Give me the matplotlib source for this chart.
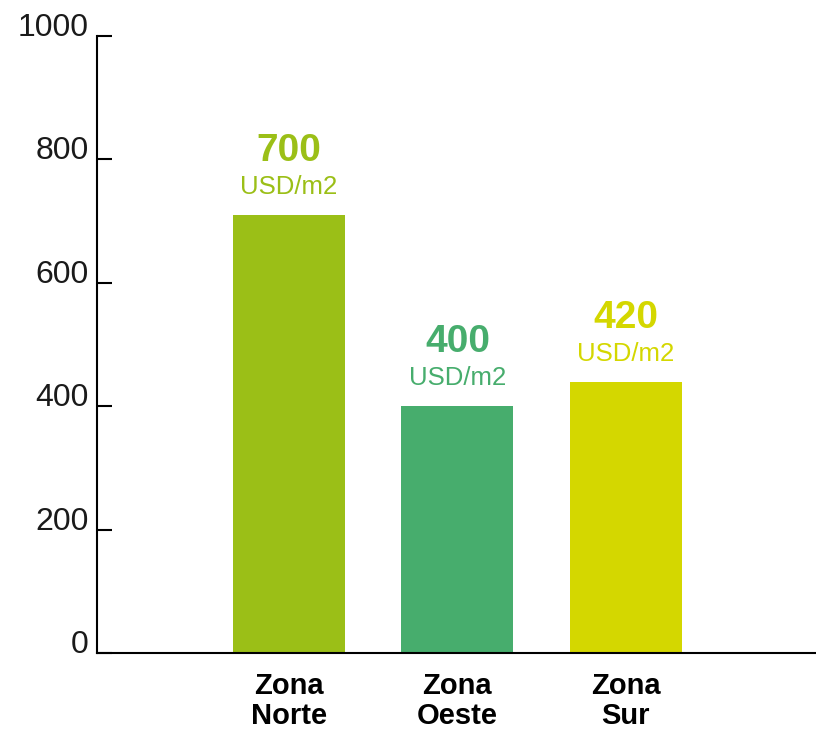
import matplotlib.pyplot as plt

# data
zonas = ["Zona\nNorte", "Zona\nOeste", "Zona\nSur"]
alturas = [710, 400, 440]
etiquetas = ["700", "400", "420"]
colores = ["#9BBF17", "#47AD6D", "#D4D700"]
yticks = [0, 200, 400, 600, 800, 1000]

plt.rcParams['font.family'] = ['Liberation Sans', 'DejaVu Sans']

fig = plt.figure(figsize=(8.16, 7.29), dpi=100)
ax = fig.add_axes([97 / 816, 76 / 729, 1 - 97 / 816, 617 / 729])

x = list(range(len(zonas)))
ax.bar(x, alturas, width=0.665, color=colores)

# value labels above each bar
for xi, h, lab, c in zip(x, alturas, etiquetas, colores):
    ax.annotate("USD/m2", (xi, h), xytext=(0, 28), textcoords='offset pixels',
                ha='center', va='center', fontsize=18.5, color=c)
    ax.annotate(lab, (xi, h), xytext=(0, 64), textcoords='offset pixels',
                ha='center', va='center', fontsize=28, fontweight='bold', color=c)

ax.set_xlim(-1.139, 3.128)
ax.set_ylim(0, 1000)

ax.set_yticks(yticks)
ax.set_yticklabels([str(t) for t in yticks], fontsize=23, color='#1a1a1a')
for t in ax.get_yticklabels():
    t.set_verticalalignment('baseline')
ax.tick_params(axis='y', direction='in', length=11, width=1.5, pad=6, color='black')

ax.set_xticks(x)
ax.set_xticklabels(zonas, fontsize=21, fontweight='bold', linespacing=1.08)
ax.tick_params(axis='x', length=0, pad=14)

for s in ['top', 'right']:
    ax.spines[s].set_visible(False)
ax.spines['left'].set_linewidth(1.5)
ax.spines['bottom'].set_linewidth(1.5)

fig.savefig("out.png", dpi=100)
